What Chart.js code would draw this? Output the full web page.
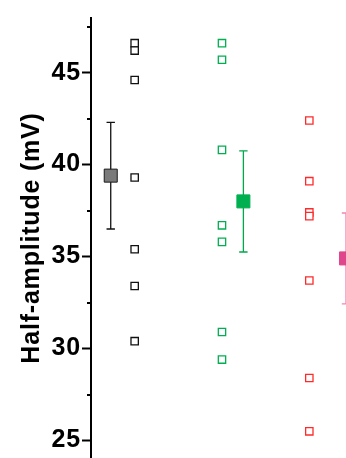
<!DOCTYPE html>
<html>
<head>
<meta charset="utf-8">
<script src="https://cdn.jsdelivr.net/npm/chart.js@4.4.1/dist/chart.umd.min.js"></script>
<style>
  html, body { margin: 0; padding: 0; background: #fff; overflow: hidden; }
  #wrap { width: 346px; height: 458px; }
</style>
</head>
<body>
<div id="wrap"><canvas id="c" width="346" height="458"></canvas></div>
<script>
// Individual recordings (open squares), one column per group
const groupNames = ['Group A', 'Group B', 'Group C'];
const pointColumn = [1, 2, 3];
const valuesA = [46.6, 46.2, 44.6, 39.3, 35.4, 33.4, 30.4];
const valuesB = [46.6, 45.7, 40.8, 36.7, 35.8, 30.9, 29.4];
const valuesC = [42.4, 39.1, 37.4, 37.2, 33.7, 28.4, 25.5];

// Group summaries (filled squares) with their error bars
const meanColumn = [0.726, 2.245, 3.42];
const means = [39.4, 38.0, 34.9];
const errors = [2.9, 2.75, 2.47];

// Axis ticks
const majorTicks = [25, 30, 35, 40, 45];
const minorTicks = [27.5, 32.5, 37.5, 42.5, 47.5];

const pointColors = ['#111111', '#00b050', '#ff2a2a'];
const meanFill = ['#7a7a7a', '#00b050', '#e0468c'];
const meanBorder = ['#1a1a1a', '#00b050', '#e0468c'];
const barColors = ['#111111', '#00a84c', '#ef86b6'];

const groupValues = [valuesA, valuesB, valuesC];

const pointSets = groupValues.map((vals, g) => ({
  label: groupNames[g],
  data: vals.map(v => ({ x: pointColumn[g], y: v })),
  pointStyle: 'rect',
  pointRadius: 5.2,
  pointBorderWidth: 1.3,
  pointBorderColor: pointColors[g],
  pointBackgroundColor: '#ffffff',
  showLine: false,
  clip: false
}));

const meanSets = means.map((m, g) => ({
  label: groupNames[g] + ' mean',
  data: [{ x: meanColumn[g], y: m }],
  pointStyle: 'rect',
  pointRadius: 9.2,
  pointBorderWidth: 1,
  pointBorderColor: meanBorder[g],
  pointBackgroundColor: meanFill[g],
  showLine: false,
  clip: false
}));

// Error bars and minor ticks, placed through the chart's own scales
const extras = {
  id: 'extras',
  beforeDraw(chart) {
    // the axis lettering is set slightly wide
    chart.ctx.letterSpacing = '0.8px';
  },
  beforeDatasetsDraw(chart) {
    const { ctx, scales: { x, y } } = chart;
    ctx.save();
    ctx.lineWidth = 1.3;
    means.forEach((m, g) => {
      const px = x.getPixelForValue(meanColumn[g]);
      const top = y.getPixelForValue(m + errors[g]);
      const bot = y.getPixelForValue(m - errors[g]);
      ctx.strokeStyle = barColors[g];
      ctx.beginPath();
      ctx.moveTo(px, top); ctx.lineTo(px, bot);
      ctx.moveTo(px - 4.2, top); ctx.lineTo(px + 4.2, top);
      ctx.moveTo(px - 4.2, bot); ctx.lineTo(px + 4.2, bot);
      ctx.stroke();
    });
    ctx.restore();
  },
  afterDraw(chart) {
    const { ctx, chartArea, scales: { y } } = chart;
    ctx.save();
    ctx.strokeStyle = '#000';
    ctx.lineWidth = 2;
    minorTicks.forEach(v => {
      const py = Math.round(y.getPixelForValue(v));
      ctx.beginPath();
      ctx.moveTo(chartArea.left - 4, py);
      ctx.lineTo(chartArea.left, py);
      ctx.stroke();
    });
    ctx.restore();
  }
};

new Chart(document.getElementById('c'), {
  type: 'scatter',
  data: { datasets: [...meanSets, ...pointSets] },
  options: {
    responsive: false,
    animation: false,
    events: [],
    layout: { autoPadding: false, padding: { top: 18, right: 0, bottom: 0, left: 0 } },
    plugins: { legend: { display: false }, tooltip: { enabled: false } },
    scales: {
      x: {
        type: 'linear',
        display: false,
        min: 0.5,
        max: 3.42
      },
      y: {
        type: 'linear',
        min: 24.05,
        max: 47.97,
        afterBuildTicks(scale) {
          scale.ticks = majorTicks.map(v => ({ value: v }));
        },
        afterFit(scale) {
          scale.width = 91;
          scale.paddingTop = 0;
          scale.paddingBottom = 0;
          scale.paddingLeft = 0;
          scale.paddingRight = 0;
        },
        ticks: {
          color: '#000',
          padding: 1,
          font: { family: 'Liberation Sans, Arial, sans-serif', size: 25, weight: 'bold' }
        },
        grid: {
          drawOnChartArea: false,
          drawTicks: true,
          tickLength: 9,
          tickWidth: 2,
          tickColor: '#000'
        },
        border: { display: true, color: '#000', width: 2 },
        title: {
          display: true,
          text: 'Half-amplitude (mV)',
          color: '#000',
          padding: { top: 17, bottom: 0 },
          font: { family: 'Liberation Sans, Arial, sans-serif', size: 25, weight: 'bold' }
        }
      }
    }
  },
  plugins: [extras]
});
</script>
</body>
</html>
